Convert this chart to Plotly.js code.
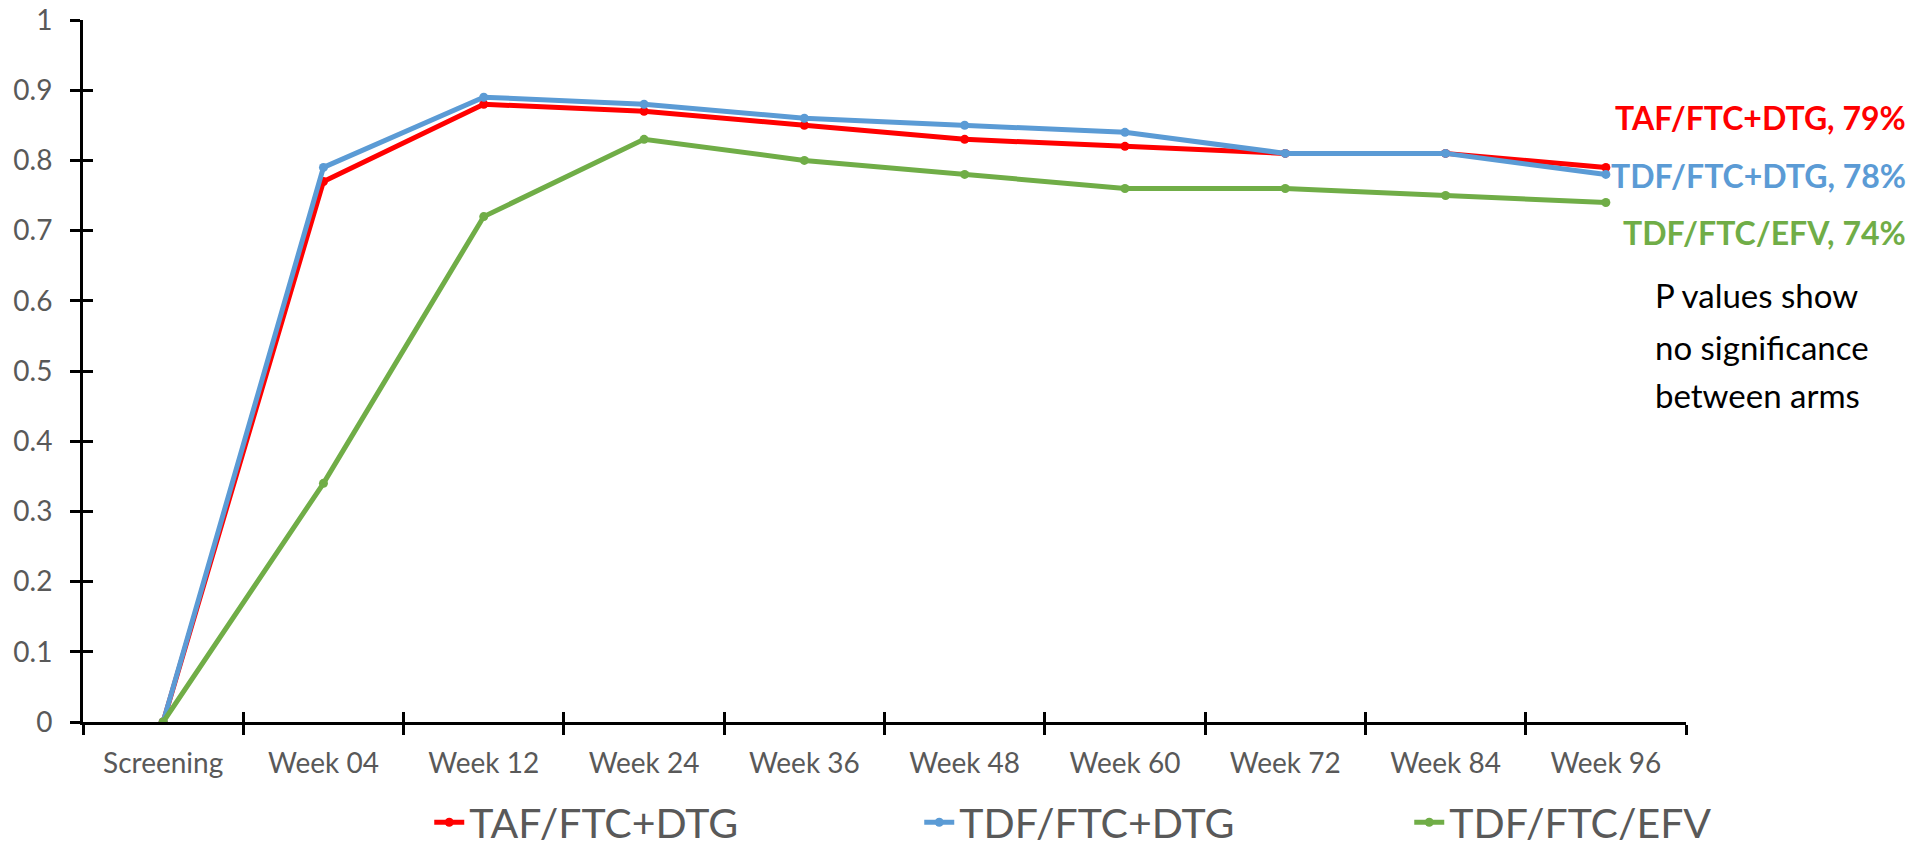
<!DOCTYPE html>
<html>
<head>
<meta charset="utf-8">
<script src="https://cdn.plot.ly/plotly-3.0.1.min.js"></script>
<style>
html, body { margin: 0; padding: 0; background: #ffffff; }
#chart { width: 1930px; height: 857px; }
</style>
</head>
<body>
<div id="chart"></div>
<script>
// ---- data ----
const categories = ["Screening", "Week 04", "Week 12", "Week 24", "Week 36", "Week 48", "Week 60", "Week 72", "Week 84", "Week 96"];
const seriesNames = ["TAF/FTC+DTG", "TDF/FTC+DTG", "TDF/FTC/EFV"];
const tafFtcDtg = [0, 0.77, 0.88, 0.87, 0.85, 0.83, 0.82, 0.81, 0.81, 0.79];
const tdfFtcDtg = [0, 0.79, 0.89, 0.88, 0.86, 0.85, 0.84, 0.81, 0.81, 0.78];
const tdfFtcEfv = [0, 0.34, 0.72, 0.83, 0.80, 0.78, 0.76, 0.76, 0.75, 0.74];
const endLabels = ["TAF/FTC+DTG, 79%", "TDF/FTC+DTG, 78%", "TDF/FTC/EFV, 74%"];
const noteLines = ["P values show", "no significance", "between arms"];

// ---- styles ----
const colors = ["#FF0000", "#5B9BD5", "#70AD47"];
const FONT = "Lato, 'Open Sans', sans-serif";
const GREY = "#595959";

const allSeries = [tafFtcDtg, tdfFtcDtg, tdfFtcEfv];
const traces = allSeries.map((vals, i) => ({
  type: "scatter",
  mode: "lines+markers",
  name: seriesNames[i],
  x: categories,
  y: vals,
  line: { color: colors[i], width: 5 },
  marker: { color: colors[i], size: 9 },
  hoverinfo: "x+y+name"
}));

// empty helper trace to register the overlay axes (inner half of crossing ticks)
traces.push({
  type: "scatter", mode: "markers", x: [], y: [],
  xaxis: "x2", yaxis: "y2", showlegend: false, hoverinfo: "skip"
});

const boundaries = [];
for (let k = 0; k <= categories.length; k++) boundaries.push(k - 0.5);
const yTicks = [];
for (let k = 0; k <= 10; k++) yTicks.push(k / 10);

const endLabelY = [0.8604, 0.7792, 0.698];
const annotations = endLabels.map((t, i) => ({
  xref: "paper", yref: "paper",
  x: 1.1385, xanchor: "right",
  y: endLabelY[i], yanchor: "middle",
  text: "<b>" + t + "</b>",
  showarrow: false,
  font: { family: FONT, size: 32, color: colors[i] }
}));
const noteY = [0.6083, 0.5342, 0.4658];
noteLines.forEach((t, i) => {
  annotations.push({
    xref: "paper", yref: "paper",
    x: 0.9794, xanchor: "left",
    y: noteY[i], yanchor: "middle",
    text: t,
    align: "left",
    showarrow: false,
    font: { family: FONT, size: 33, color: "#000000" }
  });
});

const layout = {
  width: 1930,
  height: 857,
  paper_bgcolor: "#ffffff",
  plot_bgcolor: "#ffffff",
  margin: { l: 83, r: 244, t: 20, b: 135, autoexpand: false },
  font: { family: FONT, color: GREY },
  showlegend: true,
  legend: {
    orientation: "h",
    x: 0.216, xanchor: "left",
    y: -0.191, yanchor: "bottom",
    font: { family: FONT, size: 41, color: GREY },
    itemwidth: 30,
    entrywidthmode: "pixels",
    entrywidth: 445,
    traceorder: "normal"
  },
  xaxis: {
    type: "category",
    categoryorder: "array",
    categoryarray: categories,
    range: [-0.5, categories.length - 0.5],
    showgrid: false,
    zeroline: false,
    showline: true,
    linecolor: "#000000",
    linewidth: 3,
    ticks: "outside",
    tickson: "boundaries",
    ticklen: 10,
    tickwidth: 3,
    tickcolor: "#000000",
    ticklabelstandoff: 14,
    tickfont: { family: FONT, size: 28, color: GREY },
    fixedrange: true
  },
  yaxis: {
    range: [0, 1],
    tickvals: yTicks,
    showgrid: false,
    zeroline: false,
    showline: true,
    linecolor: "#000000",
    linewidth: 3,
    ticks: "outside",
    ticklen: 10,
    tickwidth: 3,
    tickcolor: "#000000",
    ticklabelstandoff: 12,
    tickfont: { family: FONT, size: 28, color: GREY },
    fixedrange: true
  },
  xaxis2: {
    overlaying: "x",
    anchor: "y2",
    side: "bottom",
    range: [-0.5, categories.length - 0.5],
    tickvals: boundaries,
    ticks: "inside",
    ticklen: 10,
    tickwidth: 3,
    tickcolor: "#000000",
    showticklabels: false,
    showgrid: false,
    zeroline: false,
    showline: false,
    fixedrange: true
  },
  yaxis2: {
    overlaying: "y",
    anchor: "x2",
    side: "left",
    range: [0, 1],
    tickvals: yTicks,
    ticks: "inside",
    ticklen: 10,
    tickwidth: 3,
    tickcolor: "#000000",
    showticklabels: false,
    showgrid: false,
    zeroline: false,
    showline: false,
    fixedrange: true
  },
  annotations: annotations
};

Plotly.newPlot("chart", traces, layout, { displayModeBar: false, responsive: false });
</script>
</body>
</html>
